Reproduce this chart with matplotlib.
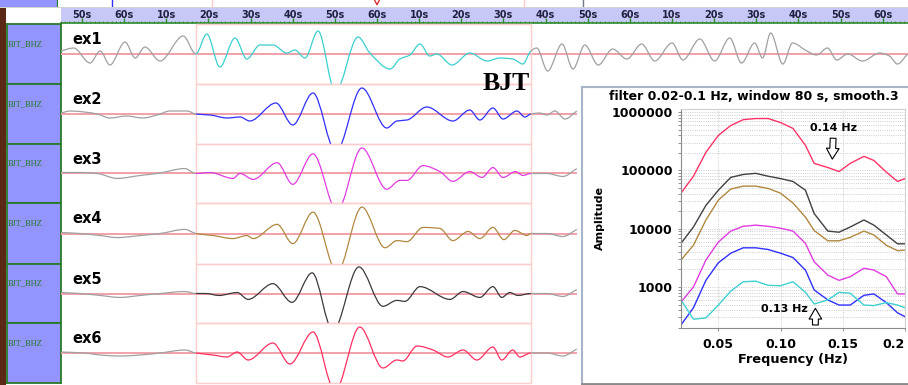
import numpy as np
import matplotlib
matplotlib.use('Agg')
import matplotlib.pyplot as plt
from matplotlib.path import Path
from matplotlib.patches import PathPatch, Rectangle
from matplotlib.ticker import FixedLocator, MultipleLocator, NullLocator

plt.rcParams['font.family'] = ['DejaVu Sans']

W, H = 908, 385

# ---- time ruler ----
tick_times = [50, 60, 70, 80, 90, 100, 110, 120, 130, 140,
              150, 160, 170, 180, 190, 200, 210, 220, 230, 240]
tick_labels = ['50s', '60s', '10s', '20s', '30s', '40s', '50s', '60s', '10s', '20s',
               '30s', '40s', '50s', '60s', '10s', '20s', '30s', '40s', '50s', '60s']
t_left, t_right = 45.0, 246.0
win_start, win_end = 77.0, 156.5

# bits of the row above that show at the top edge
prev_blue_t = 57.1
prev_window_t = [80.8, 154.8]
prev_cursor_t = 168.8
prev_red = [(119.3, 1.5), (120.0, -0.4), (120.7, 1.5)]

# ---- seismograms: knots (time s, amplitude counts) ----
ex1 = [(45.0, 3), (48.0, 6), (51.9, -9), (54.3, 3), (56.6, -11), (60.2, 12), (62.6, -4),
       (64.9, 7), (68.5, -7), (74.0, 18), (77.0, 0),
       (79.6, 20), (82.7, -13), (86.3, 16), (89.1, -5), (92.2, 9), (95.3, 9), (98.6, 1),
       (100.5, 4), (102.9, -4), (106.0, 23), (110.1, -38), (115.5, 17), (118.3, 1),
       (123.1, -15), (125.4, -5), (127.8, -1), (130.2, 10), (132.5, -2), (134.2, 0),
       (137.8, -11), (142.0, 1), (146.1, -7), (149.1, -4), (152.2, -5), (154.6, -10),
       (156.5, 3),
       (157.9, 6), (160.5, -17), (163.9, 10), (166.5, -15), (169.3, 9), (172.5, -11),
       (175.9, 5), (179.3, -5), (182.8, 10), (185.9, -7), (190.0, 11), (192.6, -6),
       (196.6, 15), (200.1, -7), (203.7, 16), (206.5, -9), (209.6, 11), (211.5, -4),
       (213.4, 21), (216.3, -10), (218.6, 11), (222.0, 3), (224.3, -1), (226.9, 6),
       (229.1, -6), (231.7, 0), (235.2, -7), (239.3, 1), (241.6, -2), (243.5, -10),
       (245.9, 0)]
ex2 = [(45.0, 1), (47.2, 3), (50.5, 2), (53.6, 0), (56.6, -4), (60.5, -2), (64.4, -4),
       (67.8, -1), (70.9, 3), (74.9, 3), (77.0, 0),
       (80.4, -1), (84.4, -4), (87.5, -3), (89.8, -7), (96.0, 11), (100.0, -11),
       (104.8, 21), (110.2, -38), (116.4, 26), (122.3, -14), (124.7, -7), (127.1, -6),
       (131.8, 7), (138.0, -7), (142.0, 4), (144.4, -6), (147.5, 6), (149.9, -5),
       (153.2, 3), (155.1, -3), (156.5, 0),
       (158.6, 1), (160.3, -1), (162.2, 3), (164.6, -5), (167.4, 3)]
ex3 = [(45.0, 1), (49.5, 1), (53.6, 0), (58.3, -5), (63.8, -2), (67.8, 0), (74.4, 5),
       (77.0, 0),
       (80.4, 1), (85.8, -5), (87.5, 0), (90.6, -6), (96.3, 11), (100.0, -11),
       (104.8, 20), (110.5, -38), (116.4, 26), (122.3, -16), (125.4, -7), (127.1, -7),
       (130.9, 8), (134.9, 2), (138.0, -8), (142.0, 2), (144.9, -4), (147.5, 6),
       (149.9, -4), (152.9, 2), (154.6, -2), (156.5, 0),
       (160.3, 0), (164.1, -3), (167.4, 5)]
ex4 = [(45.0, 1), (49.5, 0), (54.3, -2), (58.3, -4), (63.8, -2), (68.5, 0), (74.4, 4),
       (77.0, 0),
       (81.1, -2), (85.8, -5), (89.1, -2), (90.6, -5), (96.3, 9), (100.0, -10),
       (104.8, 21), (110.5, -38), (116.4, 26), (121.9, -14), (124.7, -7), (127.1, -8),
       (130.9, 6), (134.9, 5), (138.0, -7), (141.6, 2), (144.4, -5), (147.5, 6),
       (150.1, -6), (152.7, 3), (155.6, -2), (156.5, 0),
       (160.3, 0), (164.1, -3), (167.4, 4)]
ex5 = [(45.0, 1), (49.5, 0), (54.3, -2), (59.0, -4), (63.8, -2), (68.5, 0), (74.4, 2),
       (77.0, 0),
       (79.4, 0), (82.5, -2), (86.8, 1), (89.4, -6), (95.3, 10), (99.8, -9),
       (104.6, 21), (109.5, -38), (115.7, 27), (121.4, -13), (124.7, -7), (126.6, -8),
       (130.2, 7), (137.3, -6), (140.4, 2), (144.4, -4), (147.5, 7), (149.6, -4),
       (151.5, 1), (153.4, -2), (156.5, 0),
       (160.3, 0), (164.1, -3), (167.4, 4)]
ex6 = [(45.0, 1), (50.5, 0), (54.3, -2), (59.0, -3), (63.8, -2), (68.5, 0), (74.4, 3),
       (77.0, 0),
       (81.1, -2), (84.4, -4), (86.8, 1), (89.4, -7), (95.3, 10), (99.3, -11),
       (104.8, 21), (110.0, -38), (115.9, 26), (121.4, -15), (124.7, -7), (126.1, -8),
       (129.5, 7), (133.3, 3), (136.8, -4), (140.4, 3), (143.7, -7), (147.5, 6),
       (149.6, -7), (152.2, 3), (153.9, -4), (156.5, 0),
       (160.3, 0), (164.1, -3), (167.4, 4)]

names = ['ex1', 'ex2', 'ex3', 'ex4', 'ex5', 'ex6']
traces = [ex1, ex2, ex3, ex4, ex5, ex6]
colors = ['#3ccfcf', '#2f2fff', '#e03ce0', '#b08840', '#3a3a3a', '#ff3060']
station = 'BJT_BHZ'

# ---- amplitude spectra ----
freq = [0.02, 0.03, 0.04, 0.05, 0.06, 0.07, 0.08, 0.09, 0.10, 0.11,
        0.12, 0.127, 0.138, 0.147, 0.156, 0.167, 0.175, 0.185, 0.194, 0.20]
spec_ex6 = [40700, 79400, 204000, 398000, 589000, 741000, 776000, 776000, 661000, 525000,
            269000, 132000, 112000, 95500, 132000, 174000, 148000, 93300, 64600, 72400]
spec_ex5 = [5600, 10700, 25100, 45700, 75900, 85100, 89100, 79400, 72400, 64600,
            45700, 18200, 9100, 8700, 10700, 14100, 11500, 7800, 5500, 5500]
spec_ex4 = [2900, 5200, 14100, 30900, 47900, 53700, 53700, 49000, 40700, 27500,
            15800, 9300, 6200, 6200, 7100, 9100, 7800, 5200, 4200, 4300]
spec_ex3 = [550, 1000, 2900, 5900, 9100, 11000, 11500, 11000, 10200, 9100,
            5600, 2700, 1600, 1300, 1500, 2100, 1950, 1500, 760, 760]
spec_ex2 = [224, 440, 1300, 2600, 3800, 4700, 4700, 4400, 3800, 3200,
            1950, 890, 600, 490, 490, 720, 760, 540, 360, 310]
spec_ex1 = [600, 280, 295, 490, 850, 1230, 1260, 1070, 1050, 1230,
            810, 510, 600, 810, 780, 490, 480, 540, 490, 440]
spectra = [spec_ex6, spec_ex5, spec_ex4, spec_ex3, spec_ex2, spec_ex1]
spec_colors = ['#ff3366', '#404040', '#b08840', '#e03ce0', '#3030ff', '#40d0d0']


def box(x0, y0, x1, y1):
    return [x0 / W, 1 - y1 / H, (x1 - x0) / W, (y1 - y0) / H]


def slopes(t, a):
    # monotone (Fritsch-Carlson) tangents so that peaks stay flat
    h = np.diff(t)
    d = np.diff(a) / h
    m = np.zeros_like(a)
    m[0], m[-1] = d[0], d[-1]
    for i in range(1, len(a) - 1):
        if d[i - 1] * d[i] > 0:
            w1 = 2 * h[i] + h[i - 1]
            w2 = h[i] + 2 * h[i - 1]
            m[i] = (w1 + w2) / (w1 / d[i - 1] + w2 / d[i])
    return m


def bezier(t, a, m, lo, hi):
    verts = [(t[lo], a[lo])]
    codes = [Path.MOVETO]
    for i in range(lo, hi):
        h = t[i + 1] - t[i]
        verts += [(t[i] + h / 3, a[i] + m[i] * h / 3),
                  (t[i + 1] - h / 3, a[i + 1] - m[i + 1] * h / 3),
                  (t[i + 1], a[i + 1])]
        codes += [Path.CURVE4] * 3
    return Path(verts, codes)


def draw_trace(ax, pts, color):
    t = np.array([p[0] for p in pts], float)
    a = np.array([p[1] for p in pts], float)
    m = slopes(t, a)
    i0 = int(np.argmin(abs(t - win_start)))
    i1 = int(np.argmin(abs(t - win_end)))
    for lo, hi, c in [(0, i0, '#a0a0a0'), (i0, i1, color), (i1, len(t) - 1, '#a0a0a0')]:
        ax.add_patch(PathPatch(bezier(t, a, m, lo, hi), fill=False, ec=c, lw=0.9, zorder=3))


fig = plt.figure(figsize=(W / 100, H / 100), dpi=100)
fig.patch.set_facecolor('white')

# top edge: tail of the row above
ax = fig.add_axes(box(0, 0, 57, 6.5))
ax.set_facecolor('#9494ff')
ax.set_xticks([]); ax.set_yticks([])
for s in ax.spines.values():
    s.set_visible(False)
ax.spines['right'].set_visible(True)
ax.spines['right'].set_color('#2a7a2a')

ax = fig.add_axes(box(57, 0, 908, 6.5))
ax.set_xlim(44.07, t_right); ax.set_ylim(-1, 1.2)
ax.axis('off')
ax.axvline(prev_blue_t, color='#3030ff', lw=1)
for tv in prev_window_t:
    ax.axvline(tv, color='#ffc8c8', lw=1)
ax.axvline(prev_cursor_t, color='#707888', lw=1)
ax.plot([p[0] for p in prev_red], [p[1] for p in prev_red], color='#e02020', lw=0.9)

ax = fig.add_axes(box(0, 6.5, 908, 8))
ax.axis('off')
ax.add_patch(Rectangle((0, 0), 1, 1, transform=ax.transAxes, color='#d4d4d4'))

# dark strip down the left edge
ax = fig.add_axes(box(0, 8, 6, 385))
ax.set_facecolor('#5a2814')
ax.set_xticks([]); ax.set_yticks([])
for s in ax.spines.values():
    s.set_visible(False)

# time ruler
ax = fig.add_axes(box(61, 8, 908, 23))
ax.set_facecolor('#c8c8f8')
ax.set_xlim(t_left, t_right); ax.set_ylim(0, 1)
for k in ['top', 'left', 'right']:
    ax.spines[k].set_visible(False)
ax.spines['bottom'].set_color('#2a8a2a')
ax.spines['bottom'].set_linewidth(1.2)
ax.xaxis.set_major_locator(FixedLocator(tick_times))
ax.xaxis.set_minor_locator(MultipleLocator(1))
ax.tick_params(axis='x', which='major', direction='in', length=3.5, width=1,
               color='#2a8a2a', labelbottom=False)
ax.tick_params(axis='x', which='minor', direction='in', length=1.5, width=0.6,
               color='#2a8a2a')
ax.set_yticks([])
for tv, lab in zip(tick_times, tick_labels):
    ax.text(tv, 0.55, lab, ha='center', va='center', fontsize=7, fontweight='bold',
            color='#202040')

# seismogram rows
tops = [24, 84, 144, 203, 264, 323]
bots = [84, 144, 203, 264, 323, 383]
for i in range(6):
    lab = fig.add_axes(box(6.5, tops[i], 61, bots[i]))
    lab.set_facecolor('#9494ff')
    lab.set_xticks([]); lab.set_yticks([])
    for s in lab.spines.values():
        s.set_color('#2a7a2a'); s.set_linewidth(1.3)
    lab.text(0.03, 0.67, station, transform=lab.transAxes, fontsize=6,
             family='Liberation Serif', color='#1f7a1f', va='center')

    ax = fig.add_axes(box(61, tops[i], 908, bots[i]))
    ax.set_xlim(t_left, t_right); ax.set_ylim(-30, 30)
    ax.axis('off')
    pts = traces[i]
    ax.hlines(0, pts[0][0], pts[-1][0], color='#f2a0a8', lw=1.4, zorder=1)
    ax.add_patch(Rectangle((win_start, -30), win_end - win_start, 60, fill=False,
                           ec='#ffcccc', lw=1, clip_on=False, zorder=1))
    draw_trace(ax, pts, colors[i])
    ax.text(0.013, 0.74, names[i], transform=ax.transAxes, fontsize=10.5,
            fontweight='bold', va='center', ha='left')

fig.text(506 / W, 1 - 84 / H, 'BJT', family='Liberation Serif', fontweight='bold',
         fontsize=18.5, ha='center', va='center')

# spectrum inset
frame = fig.add_axes(box(582, 87, 915, 384))
frame.set_facecolor('white')
frame.set_xticks([]); frame.set_yticks([])
for k in ['left', 'top', 'right']:
    frame.spines[k].set_color('#a8b4c8'); frame.spines[k].set_linewidth(1.5)
frame.spines['bottom'].set_color('#8a8a8a'); frame.spines['bottom'].set_linewidth(2)

fig.text(754 / W, 1 - 96 / H, 'filter 0.02-0.1 Hz, window 80 s, smooth.3',
         fontsize=9, fontweight='bold', ha='center', va='center')

sp = fig.add_axes(box(681, 109, 905, 328))
for vals, c in zip(spectra, spec_colors):
    sp.semilogy(freq, vals, color=c, lw=1)
sp.set_xlim(0.02, 0.2)
sp.set_ylim(198, 1.13e6)
sp.yaxis.set_major_locator(FixedLocator([1e3, 1e4, 1e5, 1e6]))
sp.set_yticklabels(['1000', '10000', '100000', '1000000'])
sp.xaxis.set_major_locator(FixedLocator([0.05, 0.10, 0.15, 0.20]))
sp.set_xticklabels(['0.05', '0.10', '0.15', '0.2'])
sp.xaxis.set_minor_locator(NullLocator())
sp.grid(True, which='both', ls=':', color='#bdbdbd', lw=0.6)
sp.tick_params(which='both', length=2, width=0.6, color='#808080')
sp.tick_params(axis='y', pad=4)
sp.tick_params(axis='x', pad=5)
for lbl in sp.get_xticklabels() + sp.get_yticklabels():
    lbl.set_fontweight('bold'); lbl.set_fontsize(9)
# last frequency label sits against the right edge
sp.get_xticklabels()[-1].set_horizontalalignment('right')
for k in ['left', 'bottom']:
    sp.spines[k].set_color('#8a8a8a')
for k in ['top', 'right']:
    sp.spines[k].set_color('#d0d0d0')
sp.set_xlabel('Frequency (Hz)', fontsize=9.3, fontweight='bold', labelpad=2)
sp.set_ylabel('Amplitude', fontsize=8, fontweight='bold')
sp.yaxis.set_label_coords(-0.34, 0.5)

arrow = dict(arrowstyle='simple,head_length=0.55,head_width=0.65,tail_width=0.3',
             fc='white', ec='black', lw=0.8, mutation_scale=14)
sp.annotate('0.14 Hz', xy=(0.1415, 1.4e5), xytext=(0.1426, 5.4e5), fontsize=8,
            fontweight='bold', ha='center', va='center', arrowprops=arrow)
sp.annotate('', xy=(0.128, 480), xytext=(0.128, 200), arrowprops=arrow)
sp.text(0.103, 420, '0.13 Hz', fontsize=8, fontweight='bold', ha='center', va='center')

fig.savefig('out.png', dpi=100)
